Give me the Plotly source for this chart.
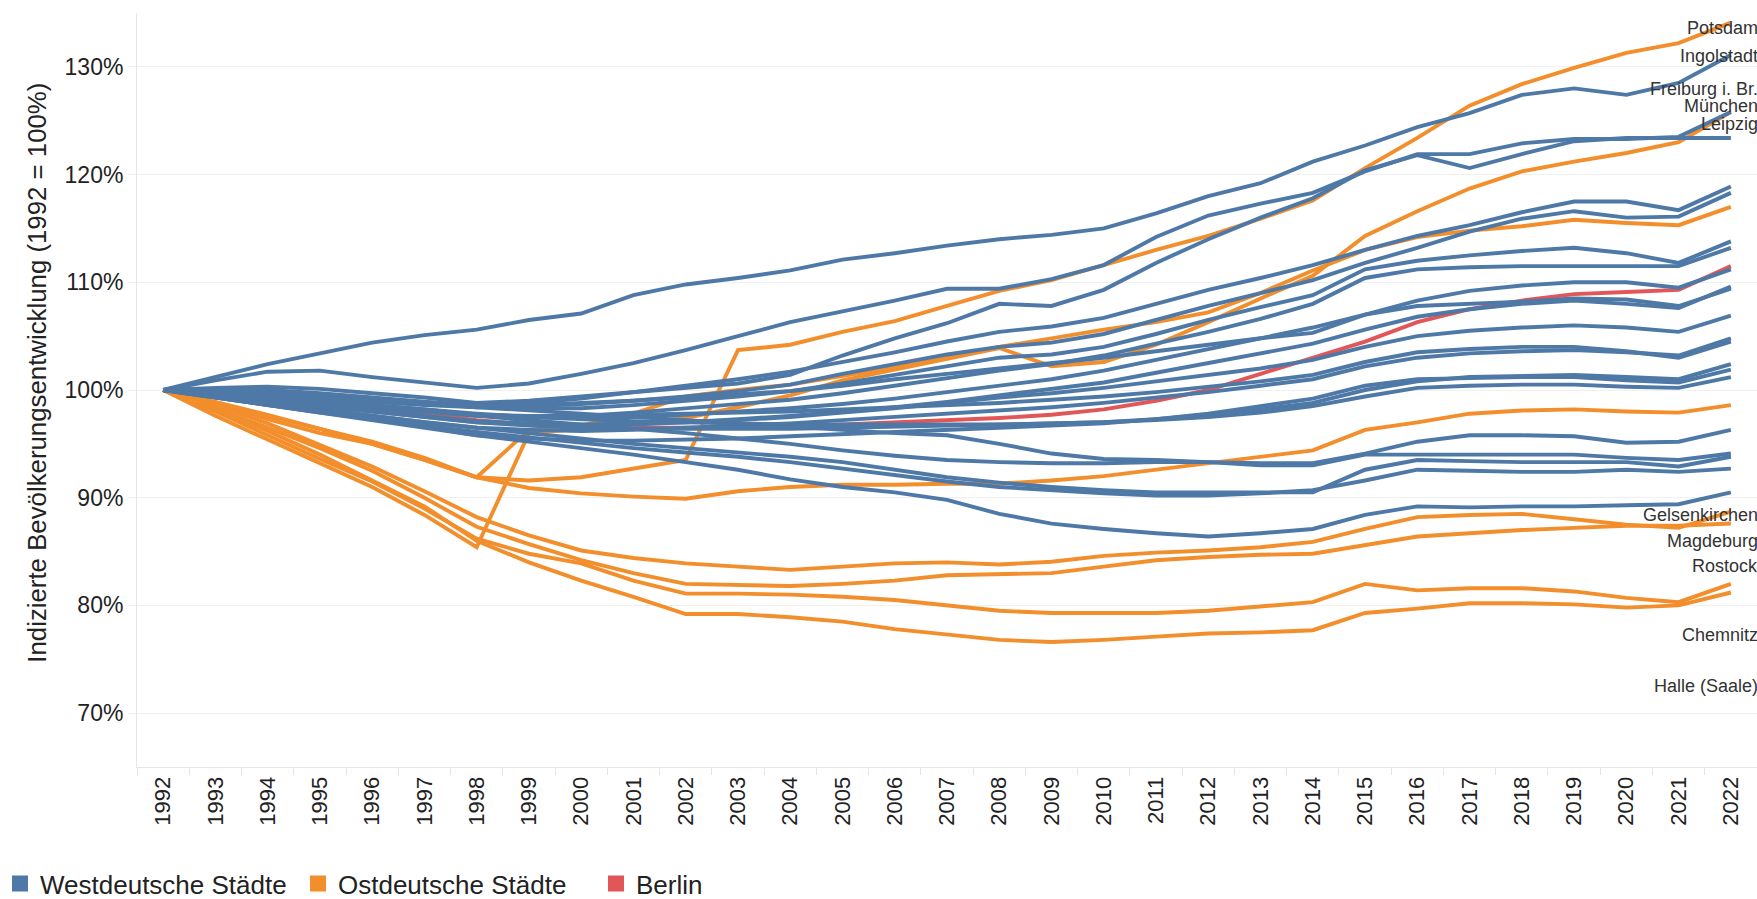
import plotly.graph_objects as go

years = ["1992", "1993", "1994", "1995", "1996", "1997", "1998", "1999", "2000", "2001",
         "2002", "2003", "2004", "2005", "2006", "2007", "2008", "2009", "2010", "2011",
         "2012", "2013", "2014", "2015", "2016", "2017", "2018", "2019", "2020", "2021", "2022"]

# --- West German cities (index, 1992 = 100) ---
ingolstadt = [100, 101.2, 102.4, 103.4, 104.4, 105.1, 105.6, 106.5, 107.1, 108.8, 109.8, 110.4, 111.1, 112.1, 112.7, 113.4, 114.0, 114.4, 115.0, 116.4, 118.0, 119.2, 121.2, 122.7, 124.4, 125.7, 127.4, 128.0, 127.4, 128.5, 131.1]
muenchen = [100, 100.9, 101.7, 101.8, 101.2, 100.7, 100.2, 100.6, 101.5, 102.5, 103.7, 105.0, 106.3, 107.3, 108.3, 109.4, 109.4, 110.3, 111.6, 114.2, 116.2, 117.3, 118.3, 120.3, 121.9, 121.9, 122.9, 123.3, 123.3, 123.5, 125.8]
freiburg = [100, 100.2, 100.3, 100.1, 99.7, 99.3, 98.8, 99.0, 99.4, 99.8, 100.2, 100.6, 101.4, 103.2, 104.8, 106.2, 108.0, 107.8, 109.3, 111.8, 114.0, 116.0, 117.8, 120.4, 121.8, 120.6, 121.9, 123.1, 123.4, 123.4, 123.4]
west_04 = [100, 99.9, 99.7, 99.5, 99.2, 98.9, 98.6, 98.8, 99.2, 99.8, 100.4, 101.0, 101.7, 102.6, 103.5, 104.5, 105.4, 105.9, 106.7, 108.0, 109.3, 110.4, 111.6, 113.0, 114.3, 115.3, 116.5, 117.5, 117.5, 116.7, 118.9]
west_05 = [100, 99.8, 99.5, 99.2, 98.9, 98.6, 98.4, 98.5, 98.7, 99.0, 99.4, 99.9, 100.5, 101.5, 102.4, 103.3, 104.0, 104.4, 105.2, 106.5, 107.8, 109.0, 110.2, 111.8, 113.2, 114.7, 115.9, 116.6, 116.0, 116.1, 118.3]
west_06 = [100, 100.1, 100.0, 99.7, 99.3, 98.9, 98.5, 98.3, 98.3, 98.6, 99.0, 99.4, 99.9, 100.6, 101.4, 102.2, 103.0, 103.3, 104.0, 105.2, 106.5, 107.7, 108.8, 111.2, 112.0, 112.5, 112.9, 113.2, 112.7, 111.8, 113.8]
west_07 = [100, 99.6, 99.2, 98.8, 98.4, 98.0, 97.6, 97.5, 97.6, 97.9, 98.3, 98.7, 99.1, 99.7, 100.4, 101.1, 101.8, 102.4, 103.2, 104.3, 105.4, 106.6, 108.0, 110.4, 111.2, 111.4, 111.5, 111.5, 111.5, 111.5, 113.2]
west_08 = [100, 99.7, 99.4, 99.0, 98.6, 98.2, 97.7, 97.5, 97.4, 97.5, 97.7, 98.0, 98.3, 98.7, 99.2, 99.8, 100.4, 101.0, 101.8, 102.8, 103.8, 104.8, 105.8, 107.0, 108.3, 109.2, 109.7, 110.0, 110.0, 109.5, 111.2]
west_09 = [100, 99.5, 99.0, 98.5, 98.0, 97.5, 97.0, 96.8, 96.7, 96.8, 97.0, 97.3, 97.6, 98.0, 98.4, 98.9, 99.5, 100.1, 100.7, 101.6, 102.5, 103.4, 104.3, 105.6, 106.8, 107.5, 108.0, 108.3, 108.0, 107.6, 109.6]
west_10 = [100, 99.8, 99.6, 99.4, 99.1, 98.8, 98.5, 98.6, 98.8, 99.0, 99.3, 99.6, 99.9, 100.4, 101.0, 101.5, 102.0, 102.5, 103.0, 103.6, 104.2, 104.8, 105.3, 107.0, 107.8, 108.0, 108.2, 108.5, 108.4, 107.8, 109.4]
west_11 = [100, 99.6, 99.1, 98.6, 98.1, 97.6, 97.1, 96.9, 96.8, 96.9, 97.0, 97.2, 97.5, 97.9, 98.3, 98.8, 99.3, 99.7, 100.2, 100.8, 101.4, 102.0, 102.8, 104.0, 105.0, 105.5, 105.8, 106.0, 105.8, 105.4, 106.9]
west_12 = [100, 99.4, 98.8, 98.2, 97.6, 97.0, 96.5, 96.3, 96.2, 96.3, 96.5, 96.7, 96.9, 97.2, 97.5, 97.8, 98.1, 98.4, 98.8, 99.3, 99.8, 100.4, 101.0, 102.2, 103.0, 103.4, 103.6, 103.7, 103.5, 103.2, 104.8]
west_13 = [100, 99.7, 99.3, 98.9, 98.5, 98.1, 97.7, 97.6, 97.6, 97.7, 97.8, 97.9, 98.0, 98.2, 98.4, 98.6, 98.8, 99.1, 99.4, 99.8, 100.3, 100.8, 101.4, 102.6, 103.5, 103.8, 104.0, 104.0, 103.6, 103.0, 104.5]
west_14 = [100, 99.5, 99.0, 98.5, 98.0, 97.5, 97.0, 96.7, 96.5, 96.4, 96.4, 96.4, 96.4, 96.5, 96.6, 96.7, 96.8, 96.9, 97.0, 97.3, 97.7, 98.2, 98.8, 100.0, 100.8, 101.2, 101.3, 101.4, 101.2, 101.0, 102.4]
west_15 = [100, 99.3, 98.6, 97.9, 97.2, 96.5, 95.8, 95.5, 95.3, 95.3, 95.4, 95.5, 95.7, 95.9, 96.1, 96.3, 96.5, 96.7, 96.9, 97.3, 97.8, 98.5, 99.2, 100.4, 101.0, 101.1, 101.2, 101.2, 100.9, 100.7, 101.9]
west_16 = [100, 99.7, 99.4, 99.0, 98.6, 98.2, 97.8, 97.5, 97.3, 97.1, 97.0, 96.9, 96.8, 96.8, 96.8, 96.8, 96.8, 96.9, 97.0, 97.2, 97.5, 97.9, 98.5, 99.4, 100.2, 100.4, 100.5, 100.5, 100.3, 100.2, 101.2]
west_17 = [100, 99.6, 99.2, 98.8, 98.4, 98.0, 97.6, 97.2, 96.8, 96.4, 96.0, 95.5, 95.0, 94.4, 93.9, 93.5, 93.3, 93.2, 93.2, 93.3, 93.3, 93.2, 93.2, 94.1, 95.2, 95.8, 95.8, 95.7, 95.1, 95.2, 96.3]
west_18 = [100, 99.8, 99.6, 99.4, 99.1, 98.8, 98.4, 98.1, 97.8, 97.5, 97.2, 96.9, 96.6, 96.3, 96.0, 95.8, 95.0, 94.1, 93.6, 93.5, 93.3, 93.0, 93.0, 94.0, 94.0, 94.0, 94.0, 94.0, 93.7, 93.5, 94.1]
west_19 = [100, 99.4, 98.8, 98.2, 97.6, 97.0, 96.5, 96.0, 95.5, 95.0, 94.6, 94.2, 93.8, 93.3, 92.6, 91.9, 91.4, 91.0, 90.7, 90.5, 90.5, 90.5, 90.5, 92.6, 93.5, 93.4, 93.3, 93.3, 93.3, 92.9, 93.8]
west_20 = [100, 99.3, 98.6, 97.9, 97.3, 96.7, 96.1, 95.6, 95.1, 94.6, 94.2, 93.8, 93.3, 92.7, 92.1, 91.5, 91.0, 90.7, 90.4, 90.2, 90.2, 90.4, 90.7, 91.6, 92.6, 92.5, 92.4, 92.4, 92.6, 92.4, 92.7]
gelsenkirchen = [100, 99.3, 98.6, 98.0, 97.3, 96.6, 95.8, 95.2, 94.6, 94.0, 93.3, 92.6, 91.7, 91.0, 90.5, 89.8, 88.5, 87.6, 87.1, 86.7, 86.4, 86.7, 87.1, 88.4, 89.2, 89.1, 89.2, 89.2, 89.3, 89.4, 90.5]

# --- East German cities ---
potsdam = [100, 98.8, 97.3, 96.0, 95.0, 93.5, 91.9, 91.6, 91.9, 92.7, 93.5, 103.7, 104.2, 105.4, 106.4, 107.8, 109.2, 110.2, 111.6, 113.0, 114.3, 115.9, 117.6, 120.6, 123.4, 126.4, 128.4, 129.9, 131.3, 132.2, 134.1]
leipzig = [100, 97.6, 95.4, 93.2, 91.0, 88.4, 85.4, 96.0, 96.4, 96.8, 97.4, 98.4, 99.5, 100.9, 101.9, 102.9, 103.9, 102.2, 102.6, 104.2, 106.3, 108.5, 110.6, 114.3, 116.6, 118.7, 120.3, 121.2, 122.0, 123.0, 125.8]
dresden = [100, 98.9, 97.7, 96.4, 95.2, 93.7, 91.9, 96.3, 96.7, 97.8, 99.4, 100.0, 100.5, 101.3, 102.1, 103.0, 104.0, 104.8, 105.6, 106.3, 107.2, 109.0, 111.1, 113.0, 114.2, 114.8, 115.2, 115.8, 115.5, 115.3, 117.0]
erfurt = [100, 98.8, 97.6, 96.4, 95.0, 93.5, 91.9, 90.9, 90.4, 90.1, 89.9, 90.6, 91.0, 91.2, 91.2, 91.3, 91.3, 91.6, 92.0, 92.6, 93.2, 93.8, 94.4, 96.3, 97.0, 97.8, 98.1, 98.2, 98.0, 97.9, 98.6]
magdeburg = [100, 98.6, 96.9, 94.9, 92.9, 90.6, 88.2, 86.5, 85.1, 84.4, 83.9, 83.6, 83.3, 83.6, 83.9, 84.0, 83.8, 84.05, 84.6, 84.9, 85.1, 85.4, 85.9, 87.1, 88.2, 88.4, 88.5, 88.0, 87.5, 87.2, 88.7]
rostock = [100, 98.3, 96.5, 94.6, 92.5, 90.0, 87.3, 85.7, 84.2, 83.0, 82.0, 81.9, 81.8, 82.0, 82.3, 82.8, 82.9, 83.0, 83.6, 84.2, 84.5, 84.7, 84.8, 85.6, 86.4, 86.7, 87.0, 87.2, 87.4, 87.4, 87.6]
chemnitz = [100, 98.0, 95.8, 93.6, 91.5, 89.0, 86.2, 84.8, 83.9, 82.3, 81.1, 81.1, 81.0, 80.8, 80.5, 80.0, 79.5, 79.3, 79.3, 79.3, 79.5, 79.9, 80.3, 82.0, 81.4, 81.6, 81.6, 81.3, 80.7, 80.3, 82.0]
halle = [100, 98.2, 96.2, 94.0, 91.6, 89.2, 86.0, 84.0, 82.3, 80.8, 79.2, 79.2, 78.9, 78.5, 77.8, 77.3, 76.8, 76.6, 76.8, 77.1, 77.4, 77.5, 77.7, 79.3, 79.7, 80.2, 80.2, 80.1, 79.8, 80.0, 81.2]

# --- Berlin ---
berlin = [100, 99.7, 99.3, 98.9, 98.4, 97.8, 97.2, 96.8, 96.6, 96.5, 96.5, 96.5, 96.6, 96.8, 97.0, 97.2, 97.4, 97.7, 98.2, 99.0, 100.0, 101.5, 103.0, 104.5, 106.3, 107.5, 108.3, 108.9, 109.1, 109.3, 111.5]

west_series = [ingolstadt, muenchen, freiburg, west_04, west_05, west_06, west_07, west_08, west_09,
               west_10, west_11, west_12, west_13, west_14, west_15, west_16, west_17, west_18,
               west_19, west_20, gelsenkirchen]
east_series = [potsdam, leipzig, dresden, erfurt, magdeburg, rostock, chemnitz, halle]

legend_names = ["Westdeutsche Städte", "Ostdeutsche Städte", "Berlin"]
end_labels = ["Potsdam", "Ingolstadt", "Freiburg i. Br.", "München", "Leipzig",
              "Gelsenkirchen", "Magdeburg", "Rostock", "Chemnitz", "Halle (Saale)"]
end_label_pos = [133.6, 131.0, 127.9, 126.4, 124.7, 88.35, 86.0, 83.65, 77.3, 72.5]

y_ticks = [70, 80, 90, 100, 110, 120, 130]
y_tick_text = ["70%", "80%", "90%", "100%", "110%", "120%", "130%"]
y_title = "Indizierte Bevölkerungsentwicklung (1992 = 100%)"

WEST = "#4E79A7"
EAST = "#F28E2B"
RED = "#E15759"
SANS = "Liberation Sans, Arial, sans-serif"
LW = 3.9

fig = go.Figure()
fig.add_trace(go.Scatter(x=years, y=berlin, mode="lines", line=dict(color=RED, width=LW),
                         showlegend=False, name="Berlin"))
for s in east_series:
    fig.add_trace(go.Scatter(x=years, y=s, mode="lines", line=dict(color=EAST, width=LW),
                             showlegend=False))
for s in west_series:
    fig.add_trace(go.Scatter(x=years, y=s, mode="lines", line=dict(color=WEST, width=LW),
                             showlegend=False))

for name, col in zip(legend_names, [WEST, EAST, RED]):
    fig.add_trace(go.Scatter(x=[None], y=[None], mode="markers", name=name,
                             marker=dict(symbol="square", size=18, color=col)))

for txt, yv in zip(end_labels, end_label_pos):
    fig.add_annotation(x=1, xref="paper", xanchor="right", xshift=3, y=yv, yref="y",
                       text=txt, showarrow=False,
                       font=dict(family=SANS, size=18, color="#333333"))

# y-axis title as rotated annotation
fig.add_annotation(x=-0.0617, xref="paper", y=0.523, yref="paper", textangle=-90,
                   text=y_title, showarrow=False, xanchor="center", yanchor="middle",
                   font=dict(family=SANS, size=25.8, color="#222222"))

fig.update_layout(
    width=1757, height=899,
    margin=dict(l=137, r=0, t=13, b=132),
    plot_bgcolor="white", paper_bgcolor="white",
    xaxis=dict(type="category", range=[-0.5, 30.5], tickangle=-90,
               tickson="boundaries", ticks="outside", ticklen=7, tickcolor="#e3e3e3",
               showgrid=False, showline=True, linecolor="#e6e6e6", linewidth=1,
               tickfont=dict(family=SANS, size=22, color="#222222")),
    yaxis=dict(range=[65, 135], tickmode="array", tickvals=y_ticks, ticktext=y_tick_text,
               gridcolor="#f0f0f0", gridwidth=1, zeroline=False,
               showline=True, linecolor="#e6e6e6", ticks="outside", ticklen=8,
               tickcolor="#eeeeee",
               tickfont=dict(family=SANS, size=23, color="#222222")),
    legend=dict(orientation="h", xref="container", yref="container", x=0.0, y=0.017,
                xanchor="left", yanchor="middle", entrywidth=253,
                font=dict(family=SANS, size=26, color="#222222"),
                bgcolor="rgba(0,0,0,0)"),
    showlegend=True,
)

fig.write_html("out.html", config={"displayModeBar": False},
               post_script="document.body.style.margin='0';document.body.style.overflow='hidden';")
